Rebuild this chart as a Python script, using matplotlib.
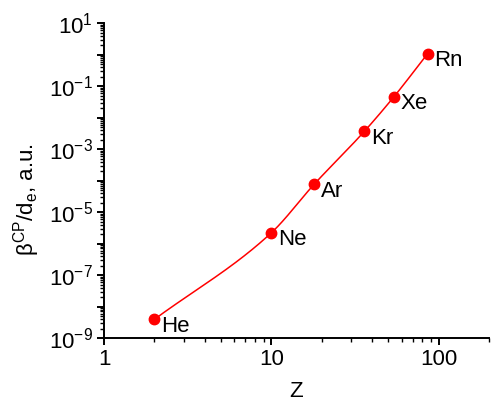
import matplotlib
matplotlib.use("Agg")
import matplotlib.pyplot as plt
import numpy as np
from matplotlib.ticker import FixedLocator, FuncFormatter, NullFormatter

plt.rcParams['font.family'] = ['Liberation Sans', 'DejaVu Sans']
plt.rcParams['mathtext.fontset'] = 'custom'
plt.rcParams['mathtext.rm'] = 'Liberation Sans'
plt.rcParams['mathtext.it'] = 'Liberation Sans:italic'
plt.rcParams['mathtext.default'] = 'regular'

elements = ['He', 'Ne', 'Ar', 'Kr', 'Xe', 'Rn']
Z = [2, 10, 18, 36, 54, 86]
beta = [3.9e-9, 2.2e-6, 7.6e-5, 3.7e-3, 4.6e-2, 1.09]


def smooth_line(x, y, xs):
    # monotone cubic Hermite (PCHIP-style) through the points, for the connecting line only
    x = np.asarray(x, float); y = np.asarray(y, float)
    h = np.diff(x); dl = np.diff(y) / h
    n = len(x)
    m = np.zeros(n)
    m[0] = dl[0]; m[-1] = dl[-1]
    for i in range(1, n - 1):
        w1 = 2 * h[i] + h[i - 1]; w2 = h[i] + 2 * h[i - 1]
        m[i] = (w1 + w2) / (w1 / dl[i - 1] + w2 / dl[i])
    idx = np.clip(np.searchsorted(x, xs) - 1, 0, n - 2)
    t = (xs - x[idx]) / h[idx]
    h00 = 2 * t ** 3 - 3 * t ** 2 + 1
    h10 = t ** 3 - 2 * t ** 2 + t
    h01 = -2 * t ** 3 + 3 * t ** 2
    h11 = t ** 3 - t ** 2
    return h00 * y[idx] + h10 * h[idx] * m[idx] + h01 * y[idx + 1] + h11 * h[idx] * m[idx + 1]


fig = plt.figure(figsize=(4.92, 4.09), dpi=100)
ax = fig.add_axes([0.2114, 0.1736, 0.7825, 0.7694])

lx = np.log10(Z); ly = np.log10(beta)
xs = np.linspace(lx[0], lx[-1], 300)
ax.plot(10 ** xs, 10 ** smooth_line(lx, ly, xs), color='#ff0000', lw=1.1, zorder=2)
ax.plot(Z, beta, ls='none', marker='o', ms=7.5, mec='#ff0000', mfc='#ff0000', zorder=3)
for e, x, y in zip(elements, Z, beta):
    ax.annotate(e, (x, y), xytext=(5, -5), textcoords='offset points',
                ha='left', va='center', fontsize=16)

ax.set_xscale('log')
ax.set_yscale('log')
ax.set_xlim(1, 200)
ax.set_ylim(1e-9, 1e1)

for s in ['top', 'right']:
    ax.spines[s].set_visible(False)
for s in ['left', 'bottom']:
    ax.spines[s].set_linewidth(1.4)

yexp = np.arange(-9, 2)
ax.yaxis.set_major_locator(FixedLocator(10.0 ** yexp))
ax.yaxis.set_major_formatter(FuncFormatter(
    lambda v, p: (r'$10^{%d}$' % round(np.log10(v))) if round(np.log10(v)) % 2 != 0 else ''))
yminor = [m * 10.0 ** e for e in range(-9, 1) for m in range(2, 10)]
ax.yaxis.set_minor_locator(FixedLocator(yminor))
ax.yaxis.set_minor_formatter(NullFormatter())

ax.xaxis.set_major_locator(FixedLocator([1, 10, 100]))
ax.xaxis.set_major_formatter(FuncFormatter(lambda v, p: '%d' % round(v)))
xminor = [m * 10.0 ** e for e in range(0, 3) for m in range(2, 10) if m * 10.0 ** e <= 200]
ax.xaxis.set_minor_locator(FixedLocator(xminor))
ax.xaxis.set_minor_formatter(NullFormatter())

ax.tick_params(which='major', direction='out', length=5, width=1.4, labelsize=16, pad=3)
ax.tick_params(which='minor', direction='out', length=3, width=1.0)

ax.set_xlabel('Z', fontsize=16, labelpad=8)
ax.set_ylabel(r'$\beta^{CP}/d_e$, a.u.', fontsize=16)
ax.yaxis.set_label_coords(-0.161, 0.438)

fig.savefig('out.png', dpi=100)
